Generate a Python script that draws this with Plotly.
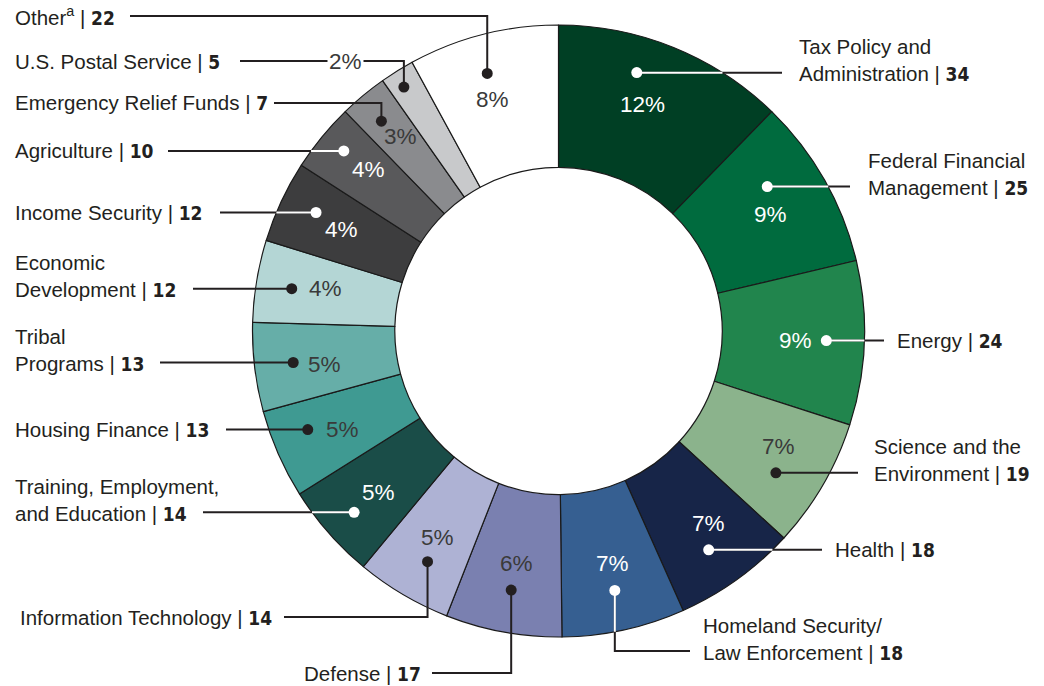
import math
import plotly.graph_objects as go

# ---------------- data ----------------
categories = [
    "Tax Policy and<br>Administration", "Federal Financial<br>Management", "Energy",
    "Science and the<br>Environment", "Health", "Homeland Security/<br>Law Enforcement",
    "Defense", "Information Technology", "Training, Employment,<br>and Education",
    "Housing Finance", "Tribal<br>Programs", "Economic<br>Development", "Income Security",
    "Agriculture", "Emergency Relief Funds", "U.S. Postal Service", "Other<sup>a</sup>",
]
values = [34, 25, 24, 19, 18, 18, 17, 14, 14, 13, 13, 12, 12, 10, 7, 5, 22]
pct_labels = ["12%", "9%", "9%", "7%", "7%", "7%", "6%", "5%", "5%", "5%", "5%",
              "4%", "4%", "4%", "3%", "2%", "8%"]

# ---------------- styles ----------------
colors = ["#003f24", "#006b3e", "#21854d", "#8bb38c", "#172548", "#365f91", "#7a80b0",
          "#aeb2d4", "#1a4d48", "#3f9a92", "#66aea8", "#b4d6d5", "#3d3d3e", "#59595b",
          "#8a8b8e", "#c8c9cb", "#ffffff"]
W_, D_ = "#ffffff", "#231f20"
txt_colors = [W_, W_, W_, D_, W_, W_, D_, D_, W_, D_, D_, D_, W_, W_, D_, D_, D_]

W, H = 1044, 686
CX, CY, R = 558.5, 331.0, 306.0
HOLE = 0.535
R_TXT = 240.0
FONT = "Liberation Sans, Arial, sans-serif"
NUM_FONT = "Liberation Sans Narrow, DejaVu Sans Condensed, Liberation Sans, Arial"

# layout tweaks for percentage text (px nudges), dot offsets from text, leader paths, labels
pct_nudge = [(-6, -4), (3, 2), (-3, 0), (13, -5), (10, -2), (3, -2), (1, -4), (1, 0), (0, 3),
             (4, 2), (4, 5), (4, -3), (0, 0), (-4, -9), (-5, -10), (0, 0), (-7, 1)]
dot_off = [(-6, -32), (-3, -28), (31, 0), (-3, 26), (0, 26), (2, 27), (-5, 27), (-10, 24),
           (-24, 20), (-35, 0), (-31, -2), (-34, 0), (-25, -17), (-25, -19), (-19, -15),
           (-28, -40), (-5, -26)]
paths = [[("h", 782)], [("h", 850)], [("h", 884)], [("h", 858)], [("h", 822)],
         [("v", 651), ("h", 690)], [("v", 673), ("h", 432)], [("v", 617), ("h", 284)],
         [("h", 203)], [("h", 226)], [("h", 160)], [("h", 193)], [("h", 220)], [("h", 168)],
         [("v", 103), ("h", 274)], [("v", 61), ("h", 240)], [("v", 16), ("h", 130)]]
label_x = [797, 866, 895, 872, 833, 701, 423, 274, 13, 13, 13, 13, 13, 13, 13, 13, 13]
label_anchor = ["left"] * 6 + ["right", "right"] + ["left"] * 9

total = sum(values)


def paper(x, y):
    return x / W, 1 - y / H


fig = go.Figure()
fig.add_trace(go.Pie(
    labels=[c.replace("<br>", " ") for c in categories], values=values,
    sort=False, direction="clockwise", rotation=0, hole=HOLE,
    marker=dict(colors=colors, line=dict(color="#1a1a1a", width=1.2)),
    textinfo="none", hoverinfo="label+value", showlegend=False,
    domain=dict(x=[(CX - R) / W, (CX + R) / W], y=[1 - (CY + R) / H, 1 - (CY - R) / H]),
))

shapes, annotations = [], []
cum = 0
for i, v in enumerate(values):
    theta = math.radians((cum + v / 2) / total * 360)
    cum += v
    tx = CX + R_TXT * math.sin(theta) + pct_nudge[i][0]
    ty = CY - R_TXT * math.cos(theta) + pct_nudge[i][1]
    dx, dy = tx + dot_off[i][0], ty + dot_off[i][1]

    pts = [(dx, dy)]
    x, y = dx, dy
    for kind, val in paths[i]:
        if kind == "h":
            x = val
        else:
            y = val
        pts.append((x, y))
    p = " ".join(("M" if k == 0 else "L") + " %.5f,%.5f" % paper(*pt) for k, pt in enumerate(pts))
    shapes.append(dict(type="path", path=p, xref="paper", yref="paper", layer="above",
                       line=dict(color="#231f20", width=2)))

    # white segment inside ring for light dots
    if txt_colors[i] == W_:
        (x0, y0), (x1, y1) = pts[0], pts[1]
        if y0 == y1:
            s = 1 if x1 > x0 else -1
            xe = CX + s * math.sqrt(max(R * R - (y0 - CY) ** 2, 0))
            seg = [(x0, y0), (xe, y0)]
        else:
            s = 1 if y1 > y0 else -1
            ye = CY + s * math.sqrt(max(R * R - (x0 - CX) ** 2, 0))
            seg = [(x0, y0), (x0, ye)]
        p2 = "M %.5f,%.5f L %.5f,%.5f" % (*paper(*seg[0]), *paper(*seg[1]))
        shapes.append(dict(type="path", path=p2, xref="paper", yref="paper", layer="above",
                           line=dict(color="#ffffff", width=2)))

    rr = 5.5
    shapes.append(dict(type="circle", xref="paper", yref="paper", layer="above",
                       x0=(dx - rr) / W, x1=(dx + rr) / W, y0=1 - (dy + rr) / H, y1=1 - (dy - rr) / H,
                       fillcolor=txt_colors[i], line=dict(width=0)))

    # percentage text
    if i == 15:  # small slice: percentage sits on the leader line
        px, py = 345, pts[-1][1]
        annotations.append(dict(x=px / W, y=1 - py / H, xref="paper", yref="paper",
                                text=pct_labels[i], showarrow=False, bgcolor="#ffffff",
                                font=dict(family=FONT, size=22.5, color="#3a3a3a"),
                                xanchor="center", yanchor="middle", borderpad=1))
    else:
        annotations.append(dict(x=tx / W, y=1 - ty / H, xref="paper", yref="paper",
                                text=pct_labels[i], showarrow=False,
                                font=dict(family=FONT, size=22.5,
                                          color=txt_colors[i] if txt_colors[i] == W_ else "#3a3a3a"),
                                xanchor="center", yanchor="middle"))

    # category label
    lx, ly = label_x[i], pts[-1][1]
    two = "<br>" in categories[i]
    if two:
        ly -= 12.5
    text = (categories[i] + " | <span style=\"font-family:%s;font-size:19px\"><b>%d</b></span>"
            % (NUM_FONT, v))
    annotations.append(dict(x=lx / W, y=1 - ly / H, xref="paper", yref="paper",
                            text=text, showarrow=False, align=label_anchor[i],
                            xanchor=label_anchor[i], yanchor="middle",
                            font=dict(family=FONT, size=20.5, color="#231f20")))

fig.update_layout(
    width=W, height=H, margin=dict(l=0, r=0, t=0, b=0),
    paper_bgcolor="#ffffff", plot_bgcolor="#ffffff",
    shapes=shapes, annotations=annotations, showlegend=False,
)
fig.write_html("out.html", config={"displayModeBar": False},
               post_script="document.body.style.margin='0';")
